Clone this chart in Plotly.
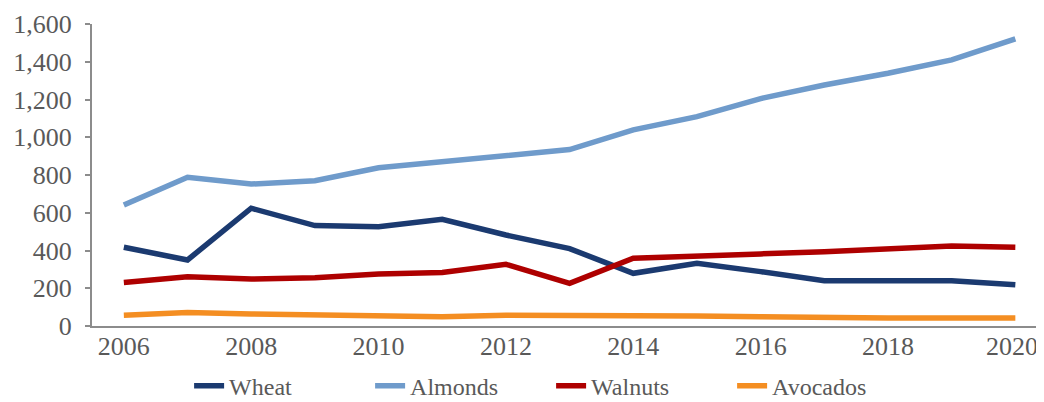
import plotly.graph_objects as go

years = list(range(2006, 2021))
wheat = [417, 350, 624, 532, 526, 565, 482, 410, 279, 332, 288, 240, 240, 240, 218]
almonds = [641, 788, 752, 770, 838, 869, 900, 935, 1039, 1109, 1205, 1277, 1339, 1410, 1521]
walnuts = [231, 261, 249, 256, 276, 283, 327, 226, 359, 367, 382, 394, 412, 424, 417]
avocados = [57, 71, 64, 57, 57, 49, 57, 58, 58, 53, 49, 42, 42, 42, 42]

x_ticks = [2006, 2008, 2010, 2012, 2014, 2016, 2018, 2020]
x_labels = ["2006", "2008", "2010", "2012", "2014", "2016", "2018", "2020\u00a0"]

series = [
    ("Wheat", wheat, "#1B3A70"),
    ("Almonds", almonds, "#6F9BCB"),
    ("Walnuts", walnuts, "#AE0000"),
    ("Avocados", avocados, "#F48E22"),
]

fig = go.Figure()
for name, vals, col in series:
    fig.add_trace(go.Scatter(x=years, y=vals, name=name, mode="lines",
                             line=dict(color=col, width=5.5)))

# the page body has an 8px margin, so the figure is 8px smaller on each side
fig.update_layout(
    width=1036, height=394,
    template="plotly_white",
    plot_bgcolor="white",
    paper_bgcolor="white",
    font=dict(family="Liberation Serif", size=26, color="#595959"),
    margin={'l': 84, 'b': 76, 't': 16, 'r': 0, 'autoexpand': False},
    xaxis=dict(range=[2005.5, 2020.45],
               tickmode="array", tickvals=x_ticks, ticktext=x_labels,
               showgrid=False, zeroline=False, automargin=False,
               showline=True, linewidth=2, linecolor="#8C8C8C",
               ticks="", ticklen=0, ticklabelstandoff=-4, ticklabeloverflow="allow"),
    yaxis=dict(range=[0, 1600], dtick=200, tickformat=",",
               showgrid=False, zeroline=False, automargin=False,
               showline=True, linewidth=2, linecolor="#8C8C8C",
               ticks="outside", ticklen=5, tickwidth=2, tickcolor="#8C8C8C",
               ticklabelstandoff=8),
    showlegend=True,
    legend=dict(orientation="h", x=0.102, xanchor="left",
                yref="container", y=0.04, yanchor="middle",
                font=dict(size=24), entrywidth=136, traceorder="normal"),
)

fig.write_html("out.html")
